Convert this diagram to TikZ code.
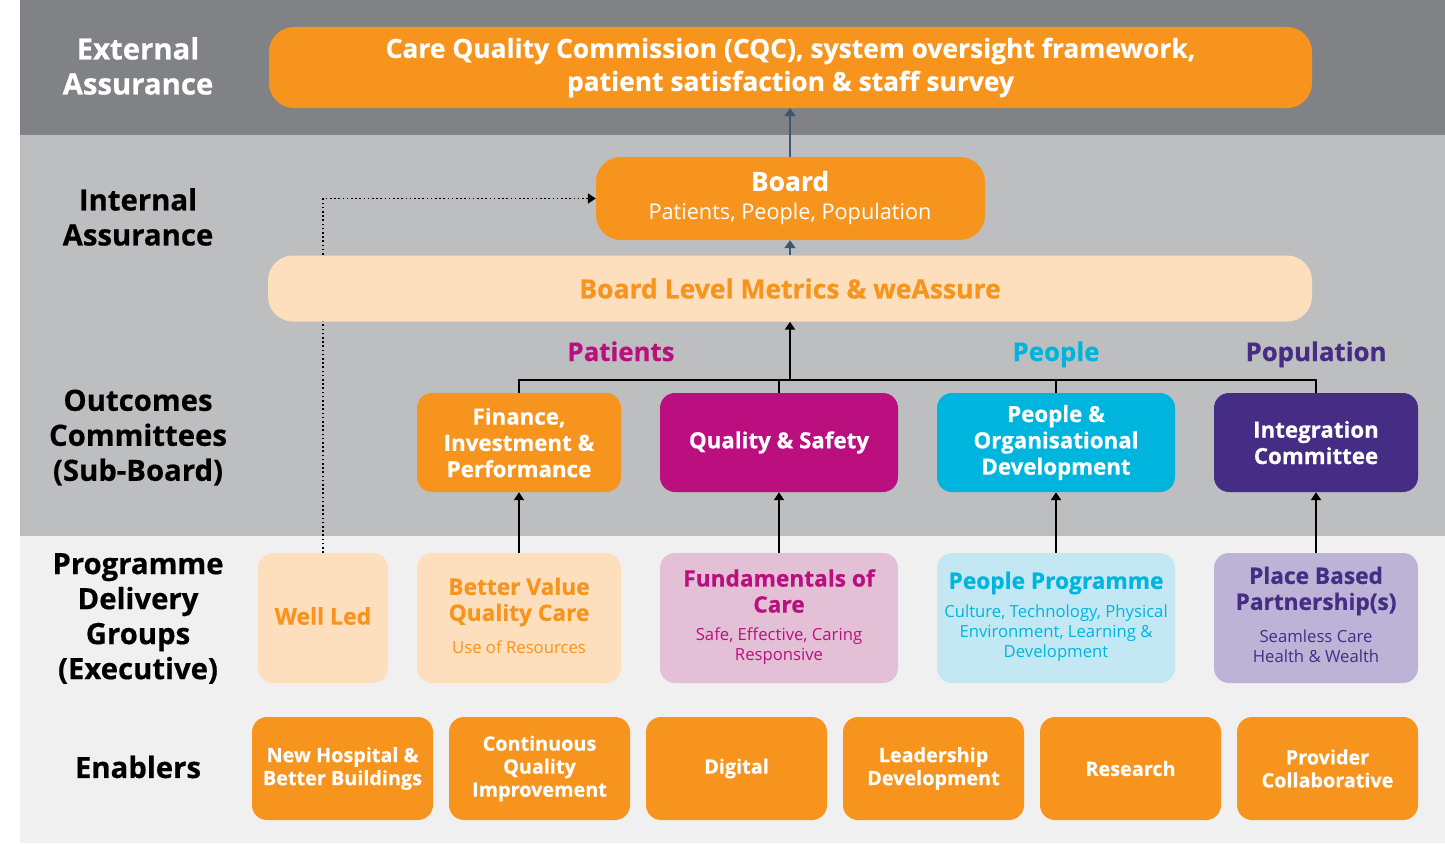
\documentclass[tikz,border=0pt]{standalone}
\usepackage{fontspec}
\setmainfont{Open Sans}[BoldFeatures={FakeBold=0.5}]
\usetikzlibrary{arrows.meta}
\definecolor{corange}{HTML}{F7941D}
\definecolor{cpeach}{HTML}{FDDFBE}
\definecolor{cmagenta}{HTML}{BB0F80}
\definecolor{ccyan}{HTML}{00B5DD}
\definecolor{cpurple}{HTML}{452C85}
\definecolor{cpink}{HTML}{E4C0D7}
\definecolor{clblue}{HTML}{C3E8F4}
\definecolor{clav}{HTML}{BCB3D7}
\definecolor{cdark}{HTML}{808285}
\definecolor{cmid}{HTML}{BCBEC0}
\definecolor{clight}{HTML}{F0F0F0}
\definecolor{cslate}{HTML}{3E5770}
\newcommand\myfs[2]{\fontsize{#1}{#2}\selectfont}
\pgfdeclarelayer{bands}
\pgfdeclarelayer{behind}
\pgfsetlayers{bands,behind,main}
\begin{document}
\begin{tikzpicture}[x=1pt,y=-1pt,
  bigbox/.style={rounded corners=25, inner sep=0pt, align=center},
  cbox/.style={rounded corners=15, inner sep=0pt, align=center, text=white, font=\bfseries\myfs{22.3}{26.3}},
  pbox/.style={rounded corners=15, inner sep=0pt, minimum height=130},
  ebox/.style={rounded corners=15, inner sep=0pt, align=center, fill=corange, text=white,
     minimum width=181, minimum height=103, font=\bfseries\myfs{19.8}{23}},
  side/.style={align=center, font=\bfseries\myfs{29.3}{35}},
  ptitle/.style={align=center, font=\bfseries\myfs{22.7}{26}},
  psub/.style={align=center, font=\myfs{16.7}{20}},
  head/.style={anchor=base, font=\bfseries\myfs{25.8}{28}},
  blk/.style={line width=2pt, black},
  tip/.style={-{Triangle[width=10pt,length=8pt]}},
  slate/.style={line width=2pt, cslate, -{Triangle[width=11pt,length=8pt]}}]
\useasboundingbox (0,0) rectangle (1445,843);
% bands
\begin{pgfonlayer}{bands}
\fill[cdark] (20,0) rectangle (1445,135);
\fill[cmid] (20,135) rectangle (1445,536);
\fill[clight] (20,536) rectangle (1445,843);
\end{pgfonlayer}

% side labels
\node[side, text=white] (lext) at (138,66) {External\\Assurance};
\node[side] (lint) at (138,217) {Internal\\Assurance};
\node[side] (lout) at (138,437.5) {Outcomes\\Committees\\(Sub-Board)};
\node[side] (lprog) at (138,618.5) {Programme\\Delivery\\Groups\\(Executive)};
\node[side] (lena) at (138,767) {Enablers};

% programme boxes
\node[pbox, fill=cpeach, minimum width=130] (well) at (323,618) {};
\node[pbox, fill=cpeach, minimum width=204] (bv) at (519,618) {};
\node[pbox, fill=cpink, minimum width=238] (foc) at (779,618) {};
\node[pbox, fill=clblue, minimum width=238] (pp) at (1056,618) {};
\node[pbox, fill=clav, minimum width=204] (pbp) at (1316,618) {};

% top boxes
\node[bigbox, fill=corange, minimum width=1043, minimum height=81, text=white, font=\bfseries\myfs{26.4}{33}] (cqc) at (790.5,67.5)
  {Care Quality Commission (CQC), system oversight framework,\\patient satisfaction \& staff survey};
\node[bigbox, fill=corange, minimum width=389, minimum height=83] (board) at (790.5,198.5) {};
\node[text=white, font=\bfseries\myfs{26.4}{28}] (boardt) at (790,181) {Board};
\node[text=white, font=\myfs{21.7}{24}] (boards) at (790,213.5) {Patients, People, Population};
\node[bigbox, fill=cpeach, minimum width=1044, minimum height=66, text=corange, font=\bfseries\myfs{26.5}{28}] (blm) at (790,288.5)
  {Board Level Metrics \& weAssure};

% dotted line (behind the metrics box)
\begin{pgfonlayer}{behind}
\draw[line width=1.6pt, dash pattern=on 1.6pt off 2.6pt, black, tip] (well.north) |- (board.west);
\end{pgfonlayer}

\draw[slate] (board.north -| 790,0) -- (cqc.south -| 790,0);
\draw[slate] (blm.north -| 790,0) -- (board.south -| 790,0);

% committees
\node[cbox, fill=corange, minimum width=204, minimum height=99] (fin) at (519,442.5) {Finance,\\Investment \&\\Performance};
\node[cbox, fill=cmagenta, minimum width=238, minimum height=99] (qs) at (779,442.5) {Quality \& Safety};
\node[cbox, fill=ccyan, minimum width=238, minimum height=99] (pod) at (1056,442.5) {People \&\\Organisational\\Development};
\node[cbox, fill=cpurple, minimum width=204, minimum height=99] (intc) at (1316,442.5) {Integration\\Committee};

% group headings
\node[head, text=cmagenta] (hpat) at (621,361) {Patients};
\node[head, text=ccyan] (hpeo) at (1056,361) {People};
\node[head, text=cpurple] (hpop) at (1316,361) {Population};

% tree
\coordinate (hl) at (790,380);
\draw[blk] (fin.north) |- (intc.north |- hl) -- (intc.north);
\draw[blk] (qs.north) -- (qs.north |- hl);
\draw[blk] (pod.north) -- (pod.north |- hl);
\draw[blk, tip] (hl) -- (blm.south -| hl);

% programme to committee arrows
\draw[blk, tip] (bv.north) -- (fin.south);
\draw[blk, tip] (foc.north) -- (qs.south);
\draw[blk, tip] (pp.north) -- (pod.south);
\draw[blk, tip] (pbp.north) -- (intc.south);

% programme texts
\node[text=corange, font=\bfseries\myfs{23}{26}] (wellt) at (323,616) {Well Led};
\node[ptitle, text=corange] (bvt) at (519,602) {Better Value\\Quality Care};
\node[psub, text=corange] (bvs) at (519,647) {Use of Resources};
\node[ptitle, text=cmagenta] (foct) at (779,591) {Fundamentals of\\Care};
\node[psub, text=cmagenta] (focs) at (779,646) {Safe, Effective, Caring\\Responsive};
\node[ptitle, text=ccyan] (ppt) at (1056,583) {People Programme};
\node[psub, text=ccyan] (pps) at (1056,633) {Culture, Technology, Physical\\Environment, Learning \&\\Development};
\node[ptitle, text=cpurple] (pbpt) at (1316,591) {Place Based\\Partnership(s)};
\node[psub, text=cpurple] (pbps) at (1316,646) {Seamless Care\\Health \& Wealth};

% enablers
\node[ebox] (e1) at (342.5,768.5) {New Hospital \&\\Better Buildings};
\node[ebox] (e2) at (539.5,768.5) {Continuous\\Quality\\Improvement};
\node[ebox] (e3) at (736.5,768.5) {Digital};
\node[ebox] (e4) at (933.5,768.5) {Leadership\\Development};
\node[ebox] (e5) at (1130.5,768.5) {Research};
\node[ebox] (e6) at (1327.5,768.5) {Provider\\Collaborative};
\end{tikzpicture}
\end{document}
